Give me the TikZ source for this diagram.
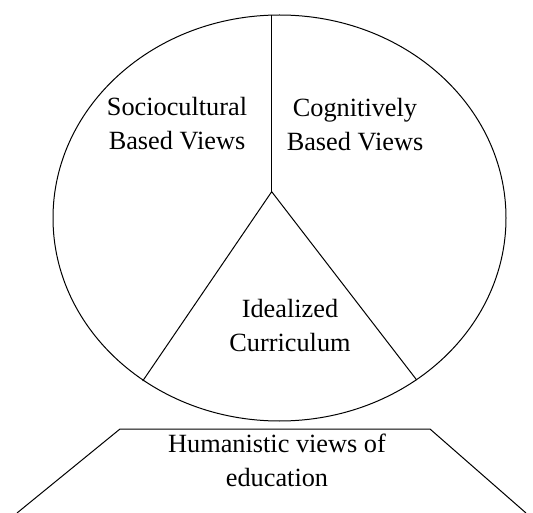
\documentclass[tikz,border=0pt]{standalone}
\usepackage{fontspec}
\setmainfont{Liberation Serif}
\begin{document}
\begin{tikzpicture}[x=1pt,y=-1pt,line width=1pt,
  label/.style={align=center,inner sep=0pt,font=\fontsize{26.3}{34}\selectfont}]
\useasboundingbox (0,0) rectangle (533,513);
% the circle of views, split in three
\draw (279.5,218) ellipse [x radius=226.5pt, y radius=203pt];
\coordinate (top) at (271.7,15);
\coordinate (apex) at (271.7,191.7);
\coordinate (left) at (142.7,381);
\coordinate (right) at (416.7,380);
\draw (top) -- (apex);
\draw (left) -- (apex) -- (right);
% base underneath
\coordinate (baseL) at (17,513);
\coordinate (baseTL) at (120,429);
\coordinate (baseTR) at (430,429);
\coordinate (baseR) at (526,513);
\draw (baseL) -- (baseTL) -- (baseTR) -- (baseR);
\node[label] (socio) at (177,124) {Sociocultural\\Based Views};
\node[label] (cogn) at (355,125) {Cognitively\\Based Views};
\node[label] (ideal) at (290,326) {Idealized\\Curriculum};
\node[label] (human) at (277,460) {Humanistic views of\\education};
\end{tikzpicture}
\end{document}
